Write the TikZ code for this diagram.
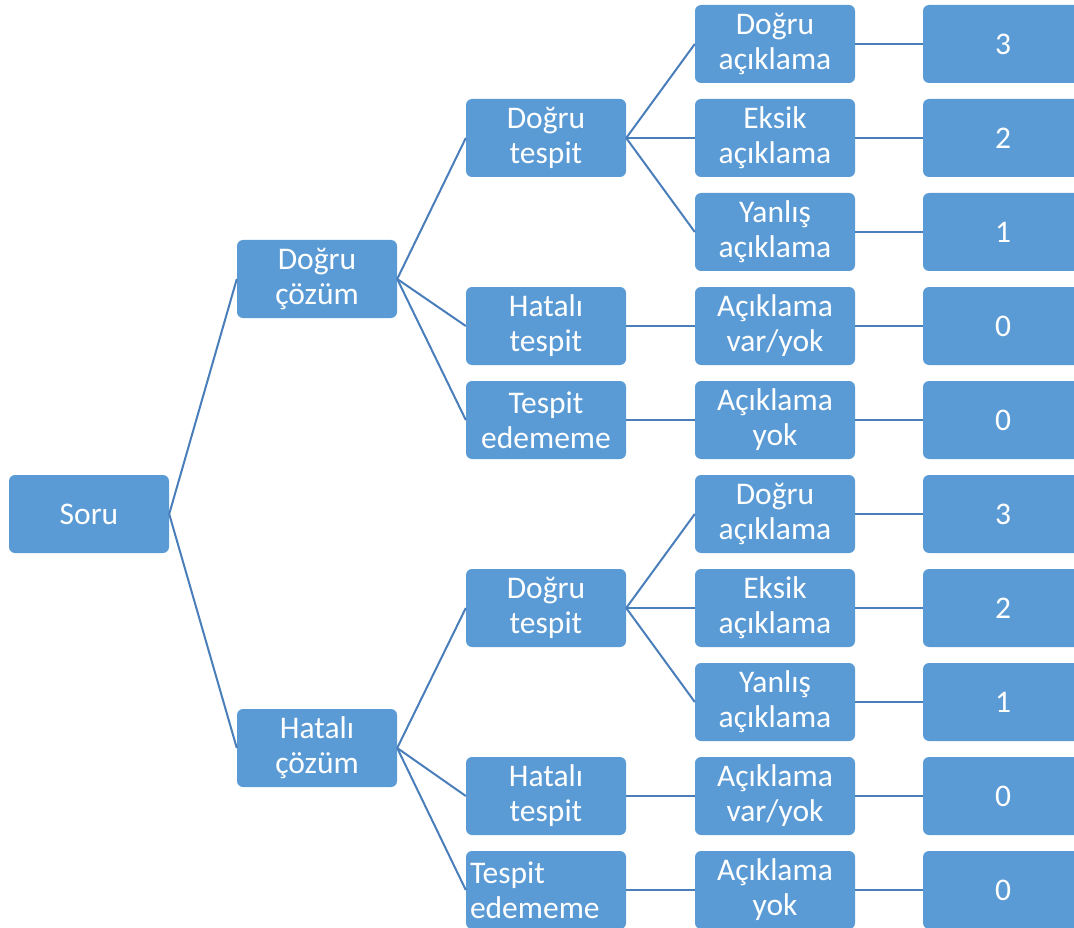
\documentclass[tikz,border=0pt]{standalone}
\usepackage{fontspec}
\setmainfont{Carlito}
\definecolor{boxblue}{HTML}{5B9BD5}
\definecolor{lineblue}{HTML}{4A7EBB}
\begin{document}
\begin{tikzpicture}[x=1pt,y=-1pt,
  box/.style={draw=none,fill=boxblue,rounded corners=6pt,minimum width=160pt,minimum height=78pt,
    inner sep=0pt,text=white,align=center,font=\fontsize{31.5}{35}\selectfont},
  leftbox/.style={box,align=left,text width=152pt},
  link/.style={draw=lineblue,line width=2pt}]
\useasboundingbox (0,0) rectangle (1074,928);
\clip (0,0) rectangle (1074,928);
% column 1
\node[box] (soru) at (89,514) {Soru};
% column 2
\node[box] (dc) at (317,279) {Doğru\\çözüm};
\node[box] (hc) at (317,748) {Hatalı\\çözüm};
% column 3
\node[box] (dt1) at (546,138) {Doğru\\tespit};
\node[box] (ht1) at (546,326) {Hatalı\\tespit};
\node[box] (te1) at (546,420) {Tespit\\edememe};
\node[box] (dt2) at (546,608) {Doğru\\tespit};
\node[box] (ht2) at (546,796) {Hatalı\\tespit};
\node[leftbox] (te2) at (546,890) {Tespit\\edememe};
% column 4
\node[box] (a1) at (775,44) {Doğru\\açıklama};
\node[box] (a2) at (775,138) {Eksik\\açıklama};
\node[box] (a3) at (775,232) {Yanlış\\açıklama};
\node[box] (a4) at (775,326) {Açıklama\\var/yok};
\node[box] (a5) at (775,420) {Açıklama\\yok};
\node[box] (a6) at (775,514) {Doğru\\açıklama};
\node[box] (a7) at (775,608) {Eksik\\açıklama};
\node[box] (a8) at (775,702) {Yanlış\\açıklama};
\node[box] (a9) at (775,796) {Açıklama\\var/yok};
\node[box] (a10) at (775,890) {Açıklama\\yok};
% column 5
\node[box] (s1) at (1003,44) {3};
\node[box] (s2) at (1003,138) {2};
\node[box] (s3) at (1003,232) {1};
\node[box] (s4) at (1003,326) {0};
\node[box] (s5) at (1003,420) {0};
\node[box] (s6) at (1003,514) {3};
\node[box] (s7) at (1003,608) {2};
\node[box] (s8) at (1003,702) {1};
\node[box] (s9) at (1003,796) {0};
\node[box] (s10) at (1003,890) {0};
% connectors
\draw[link] (soru.east) -- (dc.west);
\draw[link] (soru.east) -- (hc.west);
\draw[link] (dc.east) -- (dt1.west);
\draw[link] (dc.east) -- (ht1.west);
\draw[link] (dc.east) -- (te1.west);
\draw[link] (hc.east) -- (dt2.west);
\draw[link] (hc.east) -- (ht2.west);
\draw[link] (hc.east) -- (te2.west);
\draw[link] (dt1.east) -- (a1.west);
\draw[link] (dt1.east) -- (a2.west);
\draw[link] (dt1.east) -- (a3.west);
\draw[link] (ht1.east) -- (a4.west);
\draw[link] (te1.east) -- (a5.west);
\draw[link] (dt2.east) -- (a6.west);
\draw[link] (dt2.east) -- (a7.west);
\draw[link] (dt2.east) -- (a8.west);
\draw[link] (ht2.east) -- (a9.west);
\draw[link] (te2.east) -- (a10.west);
\draw[link] (a1.east) -- (s1.west);
\draw[link] (a2.east) -- (s2.west);
\draw[link] (a3.east) -- (s3.west);
\draw[link] (a4.east) -- (s4.west);
\draw[link] (a5.east) -- (s5.west);
\draw[link] (a6.east) -- (s6.west);
\draw[link] (a7.east) -- (s7.west);
\draw[link] (a8.east) -- (s8.west);
\draw[link] (a9.east) -- (s9.west);
\draw[link] (a10.east) -- (s10.west);
\end{tikzpicture}
\end{document}
